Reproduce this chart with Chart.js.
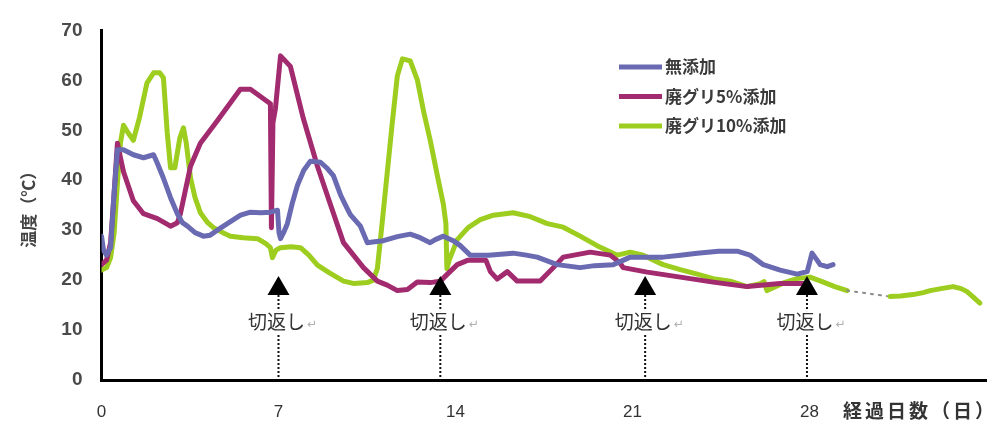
<!DOCTYPE html>
<html>
<head>
<meta charset="utf-8">
<script src="https://cdn.jsdelivr.net/npm/chart.js@4.4.0/dist/chart.umd.min.js"></script>
<style>
  html, body { margin: 0; padding: 0; background: #fff; }
  #wrap { width: 1008px; height: 431px; position: relative; }
</style>
</head>
<body>
<div id="wrap"><canvas id="chart"></canvas></div>
<script>
// Elapsed days shown on the x axis
const tickDays = [0, 7, 14, 21, 28];
// Days on which the pile was turned
const turnDays = [7.0, 13.4, 21.5, 27.9];
const turnLabel = '切返し';

const seriesNames = ['無添加', '廃グリ5%添加', '廃グリ10%添加'];
const seriesColors = ['#6a6ab2', '#a22a6e', '#9dcd1e'];

// 無添加 (no additive)
const plainDays = [0.0,0.08,0.2,0.36,0.5,0.63,0.87,1.26,1.66,2.06,2.2,2.45,2.73,3.0,3.2,3.4,3.7,4.03,4.3,4.58,5.22,5.5,5.89,6.3,6.68,6.96,7.02,7.08,7.2,7.35,7.55,7.75,8.0,8.26,8.66,8.9,9.17,9.45,9.65,9.84,10.24,10.51,10.8,11.15,11.7,12.21,12.6,13.0,13.2,13.52,13.91,14.19,14.58,14.7,15.3,16.28,16.8,17.23,18.02,18.93,19.5,20.24,20.91,21.5,22.21,22.9,23.56,24.4,25.14,25.65,26.17,26.84,27.51,27.91,28.1,28.3,28.42,28.7,28.93];
const plainTemps = [28.8,26.0,25.0,26.5,37.5,46.1,46.1,45.1,44.5,45.1,43.5,40.4,36.5,33.3,31.5,30.8,29.5,28.8,29.0,30.0,32.1,33.0,33.6,33.5,33.6,34.0,29.5,28.3,29.5,31.3,35.5,39.0,42.0,43.8,43.6,42.5,40.9,37.1,35.0,33.1,30.8,27.5,27.7,27.9,28.7,29.2,28.5,27.5,28.1,28.8,27.9,26.9,25.0,25.0,25.0,25.4,25.0,24.6,23.1,22.5,22.9,23.1,24.6,24.6,24.6,25.0,25.4,25.8,25.8,25.0,23.1,22.0,21.2,21.7,25.4,24.0,23.1,22.7,23.1];

// 廃グリ5%添加
const glycerin5Days = [0.0,0.2,0.36,0.5,0.63,0.75,0.87,1.26,1.66,2.21,2.73,3.0,3.12,3.52,3.91,4.58,5.49,5.89,6.68,6.72,6.78,6.88,7.08,7.47,7.98,8.54,9.05,9.57,10.36,10.91,11.3,11.7,12.1,12.49,13.0,13.4,13.68,14.07,14.5,14.98,15.2,15.38,15.65,16.05,16.44,17.0,17.35,17.87,18.26,19.33,20.12,20.5,20.63,21.58,22.89,24.19,25.53,26.84,27.75];
const glycerin5Temps = [23.1,24.0,27.5,37.5,47.4,44.5,41.7,35.9,33.3,32.3,30.8,31.5,33.3,42.8,47.4,51.9,58.2,58.2,55.3,30.5,51.5,54.4,64.9,62.8,52.4,42.8,35.2,27.5,22.5,19.8,19.0,17.9,18.1,19.6,19.5,19.8,21.2,23.1,24.0,24.0,24.0,21.7,20.2,21.7,19.8,19.8,19.8,22.5,24.6,25.6,25.0,23.5,22.5,21.6,20.6,19.6,18.7,19.3,19.3];

// 廃グリ10%添加 (null = logger gap)
const glycerin10Days = [0.0,0.2,0.36,0.5,0.63,0.75,0.87,1.05,1.26,1.5,1.8,2.06,2.3,2.45,2.6,2.73,2.9,3.1,3.24,3.35,3.52,3.7,3.91,4.2,4.43,4.8,5.1,5.6,6.17,6.5,6.68,6.76,6.9,7.08,7.5,7.87,8.2,8.54,9.0,9.57,10.0,10.51,10.75,10.91,11.1,11.3,11.5,11.7,11.9,12.21,12.49,12.75,13.0,13.3,13.52,13.62,13.66,13.75,14.07,14.5,14.98,15.5,16.28,16.96,17.63,18.26,18.93,19.6,20.4,20.91,21.42,22.21,22.89,23.56,24.19,24.86,25.53,26.05,26.2,26.32,27.0,27.51,28.02,28.5,29.0,29.49,30.3,31.19,31.6,32.09,32.5,32.77,33.2,33.68,34.0,34.23,34.5,34.74];
const glycerin10Temps = [22.0,22.5,24.5,29.5,39.5,47.5,51.0,49.5,48.0,52.5,59.5,61.5,61.5,60.5,49.5,42.5,42.5,48.5,50.5,47.5,40.5,36.5,33.5,31.5,30.5,29.5,28.8,28.5,28.3,27.3,26.5,24.5,26.0,26.5,26.7,26.5,25.0,23.0,21.5,19.8,19.3,19.5,20.0,22.3,31.5,41.5,51.5,60.9,64.3,63.9,60.1,53.5,48.0,40.5,35.2,31.3,22.3,24.0,28.1,30.5,32.1,33.0,33.5,32.7,31.3,30.6,28.8,26.9,25.0,25.6,25.0,23.1,22.1,21.2,20.3,19.8,18.7,19.3,19.7,17.9,19.5,20.3,20.6,19.7,18.7,17.9,null,16.7,16.8,17.1,17.5,17.9,18.3,18.7,18.3,17.7,16.5,15.4];

const toPoints = (xs, ys) => xs.map((x, i) => ({ x: x, y: ys[i] }));
const gapStyle = (ctx, value) => (ctx.p0.skip || ctx.p1.skip) ? value : undefined;

const lineStyle = (i) => ({
  label: seriesNames[i],
  borderColor: seriesColors[i],
  backgroundColor: seriesColors[i],
  borderWidth: 5,
  borderJoinStyle: 'round',
  borderCapStyle: 'round',
  pointRadius: 0,
  tension: 0,
  fill: false,
  spanGaps: true,
  segment: {
    borderDash: ctx => gapStyle(ctx, [2, 6]),
    borderColor: ctx => gapStyle(ctx, '#8a8a8a'),
    borderWidth: ctx => gapStyle(ctx, 2)
  }
});

const datasets = [
  Object.assign(lineStyle(0), { data: toPoints(plainDays, plainTemps) }),
  Object.assign(lineStyle(1), { data: toPoints(glycerin5Days, glycerin5Temps) }),
  Object.assign(lineStyle(2), { data: toPoints(glycerin10Days, glycerin10Temps) })
];

const cjk = '"Noto Sans CJK JP", "Noto Sans CJK SC", sans-serif';

// Turning markers, legend and the x-axis caption
const overlay = {
  id: 'overlay',
  afterDatasetsDraw(chart) {
    const { ctx, scales: { x, y } } = chart;
    ctx.save();

    turnDays.forEach(d => {
      const px = x.getPixelForValue(d);
      const tip = y.getPixelForValue(20.8);
      const base = y.getPixelForValue(17.0);
      const axis = y.getPixelForValue(0);
      const ly = y.getPixelForValue(11.6);

      ctx.strokeStyle = '#111';
      ctx.lineWidth = 2;
      ctx.setLineDash([2, 2]);
      ctx.beginPath();
      ctx.moveTo(px, base);
      ctx.lineTo(px, axis - 2);
      ctx.stroke();
      ctx.setLineDash([]);

      ctx.fillStyle = '#000';
      ctx.beginPath();
      ctx.moveTo(px, tip);
      ctx.lineTo(px - 11, base);
      ctx.lineTo(px + 11, base);
      ctx.closePath();
      ctx.fill();

      ctx.font = '19px ' + cjk;
      const w = ctx.measureText(turnLabel).width;
      ctx.fillStyle = '#fff';
      ctx.fillRect(px - 2 - w / 2 - 2, ly - 11, w + 4, 22);
      ctx.fillStyle = '#333';
      ctx.textAlign = 'center';
      ctx.textBaseline = 'middle';
      ctx.fillText(turnLabel, px - 2, ly);
      ctx.font = '12px "DejaVu Sans"';
      ctx.fillStyle = '#b0b0b0';
      ctx.textAlign = 'left';
      ctx.fillText('↵', px - 2 + w / 2 + 2, ly + 3);
    });

    // legend
    ctx.textAlign = 'left';
    ctx.textBaseline = 'middle';
    ctx.font = 'bold 17px ' + cjk;
    chart.data.datasets.forEach((ds, i) => {
      const ly = 67 + i * 29.5;
      ctx.strokeStyle = ds.borderColor;
      ctx.lineWidth = 5;
      ctx.beginPath();
      ctx.moveTo(619, ly);
      ctx.lineTo(662, ly);
      ctx.stroke();
      ctx.fillStyle = '#3a3a3a';
      ctx.fillText(ds.label, 665, ly);
    });

    // x-axis caption beside the last tick
    ctx.font = 'bold 19px ' + cjk;
    ctx.fillStyle = '#333';
    const caption = ['経', '過', '日', '数', '（', '日', '）'];
    caption.forEach((ch, i) => ctx.fillText(ch, 843 + i * 22, 411));

    ctx.restore();
  }
};

new Chart(document.getElementById('chart'), {
  type: 'line',
  data: { datasets: datasets },
  options: {
    responsive: true,
    maintainAspectRatio: false,
    devicePixelRatio: 1,
    animation: false,
    layout: { padding: { top: 17, right: 21.5, bottom: 0, left: 0 } },
    plugins: {
      legend: { display: false },
      title: { display: false },
      tooltip: { enabled: false }
    },
    scales: {
      x: {
        type: 'linear',
        min: 0,
        max: 35,
        grid: { display: false, drawTicks: false },
        border: { display: true, color: '#000', width: 3 },
        afterBuildTicks: scale => { scale.ticks = tickDays.map(v => ({ value: v })); },
        afterFit: scale => { scale.height = 51; },
        ticks: {
          padding: 22,
          maxRotation: 0,
          autoSkip: false,
          color: '#333',
          font: { family: '"Liberation Sans", Arial, sans-serif', size: 17 }
        }
      },
      y: {
        min: 0,
        max: 70,
        grid: { display: false, drawTicks: false },
        border: { display: true, color: '#000', width: 3 },
        afterFit: scale => { scale.width = 101.5; },
        ticks: {
          stepSize: 10,
          padding: 19,
          color: '#4a4a4a',
          font: { family: '"Liberation Sans", Arial, sans-serif', size: 19, weight: 'bold' }
        },
        title: {
          display: true,
          text: '温度（℃）',
          color: '#444',
          padding: { top: 18, bottom: 0 },
          font: { family: cjk, size: 17, weight: 'bold' }
        }
      }
    }
  },
  plugins: [overlay]
});
</script>
</body>
</html>
